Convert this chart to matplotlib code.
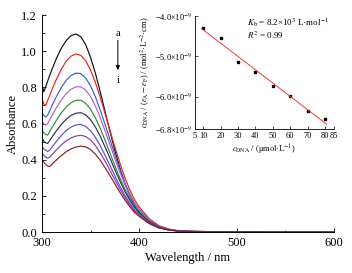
import matplotlib
matplotlib.use('Agg')
import matplotlib.pyplot as plt
import numpy as np
from matplotlib.ticker import MultipleLocator

plt.rcParams['font.family'] = ['Liberation Serif', 'DejaVu Serif']
plt.rcParams['mathtext.fontset'] = 'stix'

wl = [300, 302, 304, 306, 308, 310, 315, 320, 325, 330, 335, 340, 345, 350, 355,
      360, 365, 370, 375, 380, 385, 390, 395, 400, 410, 420, 430, 440, 450, 475,
      500, 550, 600]
abs_a = [0.820, 0.775, 0.805, 0.836, 0.865, 0.894, 0.961, 1.017, 1.059, 1.086, 1.095,
         1.080, 1.036, 0.966, 0.877, 0.774, 0.664, 0.554, 0.450, 0.356, 0.273, 0.204,
         0.148, 0.110, 0.056, 0.026, 0.012, 0.006, 0.004, 0.002, 0.001, 0.0005, 0.0]
abs_b = [0.735, 0.709, 0.700, 0.728, 0.756, 0.783, 0.846, 0.901, 0.945, 0.973, 0.985,
         0.977, 0.947, 0.895, 0.826, 0.744, 0.653, 0.560, 0.469, 0.383, 0.305, 0.237,
         0.180, 0.138, 0.075, 0.036, 0.017, 0.008, 0.005, 0.002, 0.001, 0.0005, 0.0]
abs_c = [0.660, 0.644, 0.636, 0.647, 0.671, 0.695, 0.750, 0.800, 0.839, 0.866, 0.879,
         0.876, 0.852, 0.808, 0.747, 0.674, 0.593, 0.509, 0.425, 0.347, 0.275, 0.214,
         0.162, 0.125, 0.066, 0.032, 0.015, 0.007, 0.004, 0.002, 0.001, 0.0005, 0.0]
abs_d = [0.615, 0.599, 0.591, 0.600, 0.621, 0.641, 0.688, 0.731, 0.765, 0.790, 0.803,
         0.803, 0.785, 0.749, 0.696, 0.631, 0.558, 0.481, 0.404, 0.331, 0.265, 0.206,
         0.157, 0.121, 0.065, 0.031, 0.014, 0.007, 0.004, 0.002, 0.001, 0.0005, 0.0]
abs_e = [0.565, 0.549, 0.539, 0.536, 0.555, 0.574, 0.619, 0.659, 0.692, 0.715, 0.728,
         0.729, 0.712, 0.679, 0.631, 0.572, 0.506, 0.436, 0.366, 0.300, 0.240, 0.187,
         0.142, 0.110, 0.059, 0.029, 0.013, 0.006, 0.003, 0.002, 0.001, 0.0005, 0.0]
abs_f = [0.520, 0.503, 0.493, 0.490, 0.506, 0.522, 0.561, 0.595, 0.624, 0.645, 0.657,
         0.660, 0.648, 0.621, 0.580, 0.529, 0.469, 0.407, 0.344, 0.283, 0.227, 0.178,
         0.136, 0.106, 0.057, 0.028, 0.013, 0.006, 0.003, 0.0015, 0.001, 0.0005, 0.0]
abs_g = [0.475, 0.460, 0.451, 0.446, 0.452, 0.467, 0.502, 0.534, 0.561, 0.581, 0.592,
         0.595, 0.584, 0.560, 0.523, 0.477, 0.423, 0.367, 0.310, 0.255, 0.205, 0.161,
         0.123, 0.096, 0.051, 0.025, 0.012, 0.006, 0.003, 0.0015, 0.001, 0.0005, 0.0]
abs_h = [0.440, 0.424, 0.414, 0.409, 0.414, 0.426, 0.455, 0.482, 0.504, 0.521, 0.531,
         0.535, 0.528, 0.509, 0.478, 0.437, 0.391, 0.340, 0.289, 0.239, 0.193, 0.152,
         0.117, 0.092, 0.049, 0.024, 0.012, 0.0055, 0.003, 0.0015, 0.001, 0.0005, 0.0]
abs_i = [0.405, 0.386, 0.373, 0.365, 0.362, 0.373, 0.399, 0.423, 0.444, 0.460, 0.470,
         0.475, 0.471, 0.456, 0.430, 0.396, 0.355, 0.311, 0.266, 0.221, 0.179, 0.142,
         0.109, 0.086, 0.047, 0.023, 0.012, 0.0054, 0.003, 0.0015, 0.001, 0.0005, 0.0]

spectra = [abs_a, abs_b, abs_c, abs_d, abs_e, abs_f, abs_g, abs_h, abs_i]
colors = ['#111111', '#ee2020', '#3a5fcd', '#b460d0', '#2e8b3a',
          '#2f2f5f', '#5a4fc8', '#8a3aa8', '#8b1c24']

# inset: c_DNA (umol/L) vs c_DNA/(eA-eF) (x1e-9)
c_dna = [10, 20, 30, 40, 50, 60, 70, 80]
ratio = [-4.30, -4.56, -5.13, -5.39, -5.73, -5.98, -6.35, -6.55]
inset_xticks = [5, 10, 20, 30, 40, 50, 60, 70, 80, 85]
inset_yticks = [-4.0, -5.0, -6.0, -6.8]

fig = plt.figure(figsize=(3.52, 2.73), dpi=100)
ax = fig.add_axes([0.119, 0.150, 0.830, 0.795])

for y, c in zip(spectra, colors):
    ax.plot(wl, y, color=c, lw=0.85)

ax.set_xlim(300, 600)
ax.set_ylim(0, 1.2)
ax.xaxis.set_major_locator(MultipleLocator(100))
ax.xaxis.set_minor_locator(MultipleLocator(50))
ax.yaxis.set_major_locator(MultipleLocator(0.2))
ax.yaxis.set_minor_locator(MultipleLocator(0.1))
ax.yaxis.set_major_formatter(plt.FuncFormatter(lambda v, p: '%.1f' % v))
ax.tick_params(which='both', direction='in', labelsize=9, width=0.6)
ax.tick_params(which='major', length=3)
ax.tick_params(which='minor', length=1.8)
ax.spines['top'].set_visible(False)
ax.spines['right'].set_visible(False)
for s in ['left', 'bottom']:
    ax.spines[s].set_linewidth(0.7)
ax.set_xlabel('Wavelength / nm', fontsize=9, labelpad=2)
ax.set_ylabel('Absorbance', fontsize=9, labelpad=2)

# a -> i arrow
ax.annotate('', xy=(378, 0.88), xytext=(378, 1.075),
            arrowprops=dict(arrowstyle='-|>', color='k', lw=0.7, mutation_scale=6))
ax.text(378, 1.10, 'a', ha='center', va='center', fontsize=7.5)
ax.text(378, 0.84, 'i', ha='center', va='center', fontsize=7.5)

# inset
ins = fig.add_axes([0.553, 0.527, 0.395, 0.415])
ins.plot(c_dna, ratio, 's', color='k', ms=1.8)
k, b0 = np.polyfit(c_dna, ratio, 1)
xl = np.array([9, 81])
ins.plot(xl, k * xl + b0, color='#ee3a30', lw=0.7)
ins.set_xlim(5, 85)
ins.set_ylim(-6.8, -4.0)
ins.set_xticks(inset_xticks)
ins.set_yticks(inset_yticks)
ins.set_yticklabels(['\u2212%.1f\u00d710$^{-9}$' % abs(v) for v in inset_yticks])
ins.tick_params(direction='in', labelsize=6, length=2, width=0.5, pad=2)
ins.spines['top'].set_visible(False)
ins.spines['right'].set_visible(False)
for s in ['left', 'bottom']:
    ins.spines[s].set_linewidth(0.6)
ins.set_xlabel('$c_{\\mathrm{DNA}}$ / (\u03bcmol\u00b7L$^{-1}$)', fontsize=6, labelpad=2)
ins.set_ylabel('$c_{\\mathrm{DNA}}$ / ($\\varepsilon_{\\mathrm{A}}-\\varepsilon_{\\mathrm{F}}$) / (mol$^{2}$\u00b7L$^{-2}$\u00b7cm)',
               fontsize=6, labelpad=2)
ins.text(0.377, 0.935, '$K_{\\mathrm{b}}$ = 8.2\u00d710$^{3}$ L\u00b7mol$^{-1}$',
         transform=ins.transAxes, fontsize=6.5, va='center')
ins.text(0.377, 0.83, '$R^{2}$ = 0.99', transform=ins.transAxes, fontsize=6.5, va='center')

fig.savefig('out.png', dpi=100)
